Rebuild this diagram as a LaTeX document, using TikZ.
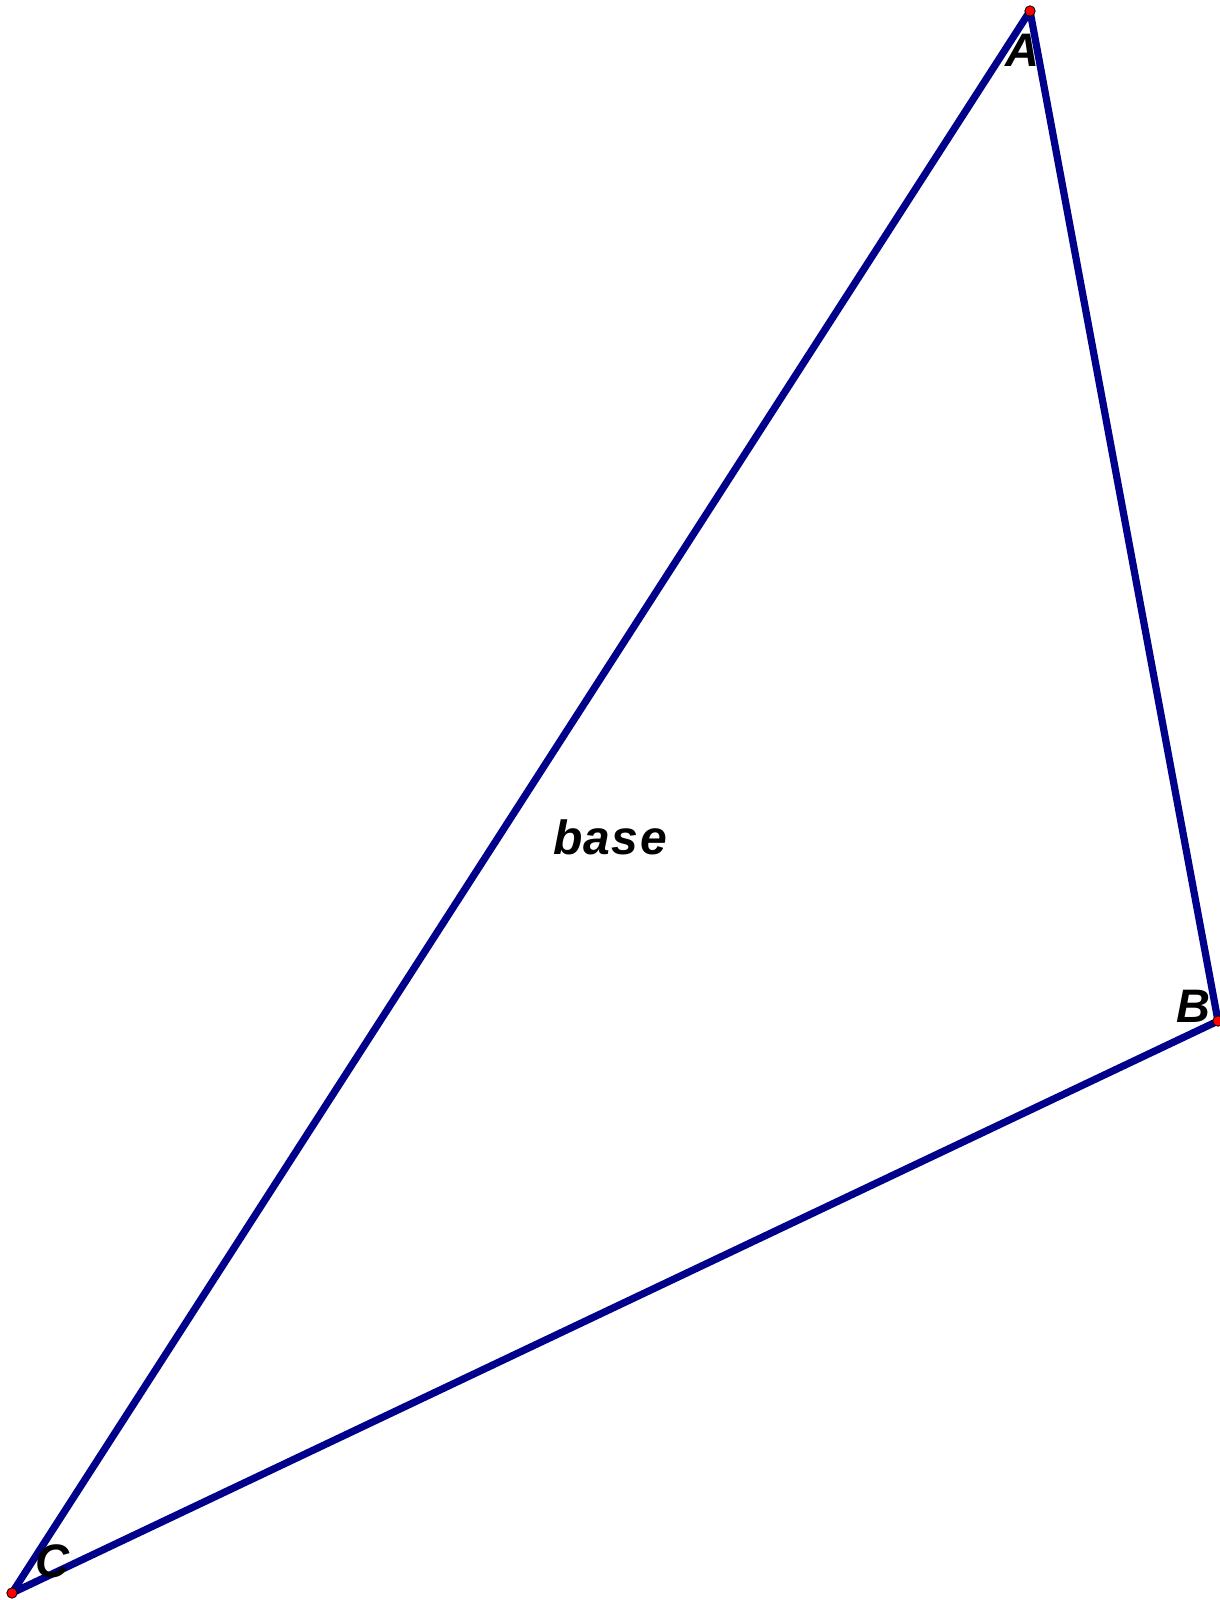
\documentclass[tikz,border=0pt]{standalone}
\usepackage{fontspec}
\setmainfont{Liberation Sans}
\definecolor{sideBlue}{HTML}{00008B}
\definecolor{pointRed}{HTML}{FF0000}

\tikzset{
    side/.style={draw=sideBlue, line width=3.6pt, line join=round, line cap=round},
    vertex/.style={fill=pointRed, draw=black, line width=0.4pt},
    vlabel/.style={font=\fontsize{23.5}{26}\selectfont\bfseries\itshape, inner sep=0pt}
}

\begin{document}
\begin{tikzpicture}[x=0.5pt, y=-0.5pt]

    \useasboundingbox (0,0) rectangle (1220,1600);

    % vertices
    \coordinate (A) at (1030,11);
    \coordinate (B) at (1218,1021);
    \coordinate (C) at (12,1593);

    % sides of the triangle
    \draw[side] (C) -- (A) -- (B) -- (C);

    % vertex labels
    \node[vlabel] (labA) at (1022,50) {A};
    \node[vlabel] (labB) at (1193,1006) {B};
    \node[vlabel] (labC) at (52,1561) {C};

    % name of the face
    \node[font=\fontsize{24}{26}\selectfont\bfseries\itshape\addfontfeature{LetterSpace=3}, inner sep=0pt, anchor=base]
        (base) at (610,854) {base};

    % points
    \foreach \p in {A,B,C} {
        \filldraw[vertex] (\p) circle (2.6pt);
    }

\end{tikzpicture}
\end{document}
